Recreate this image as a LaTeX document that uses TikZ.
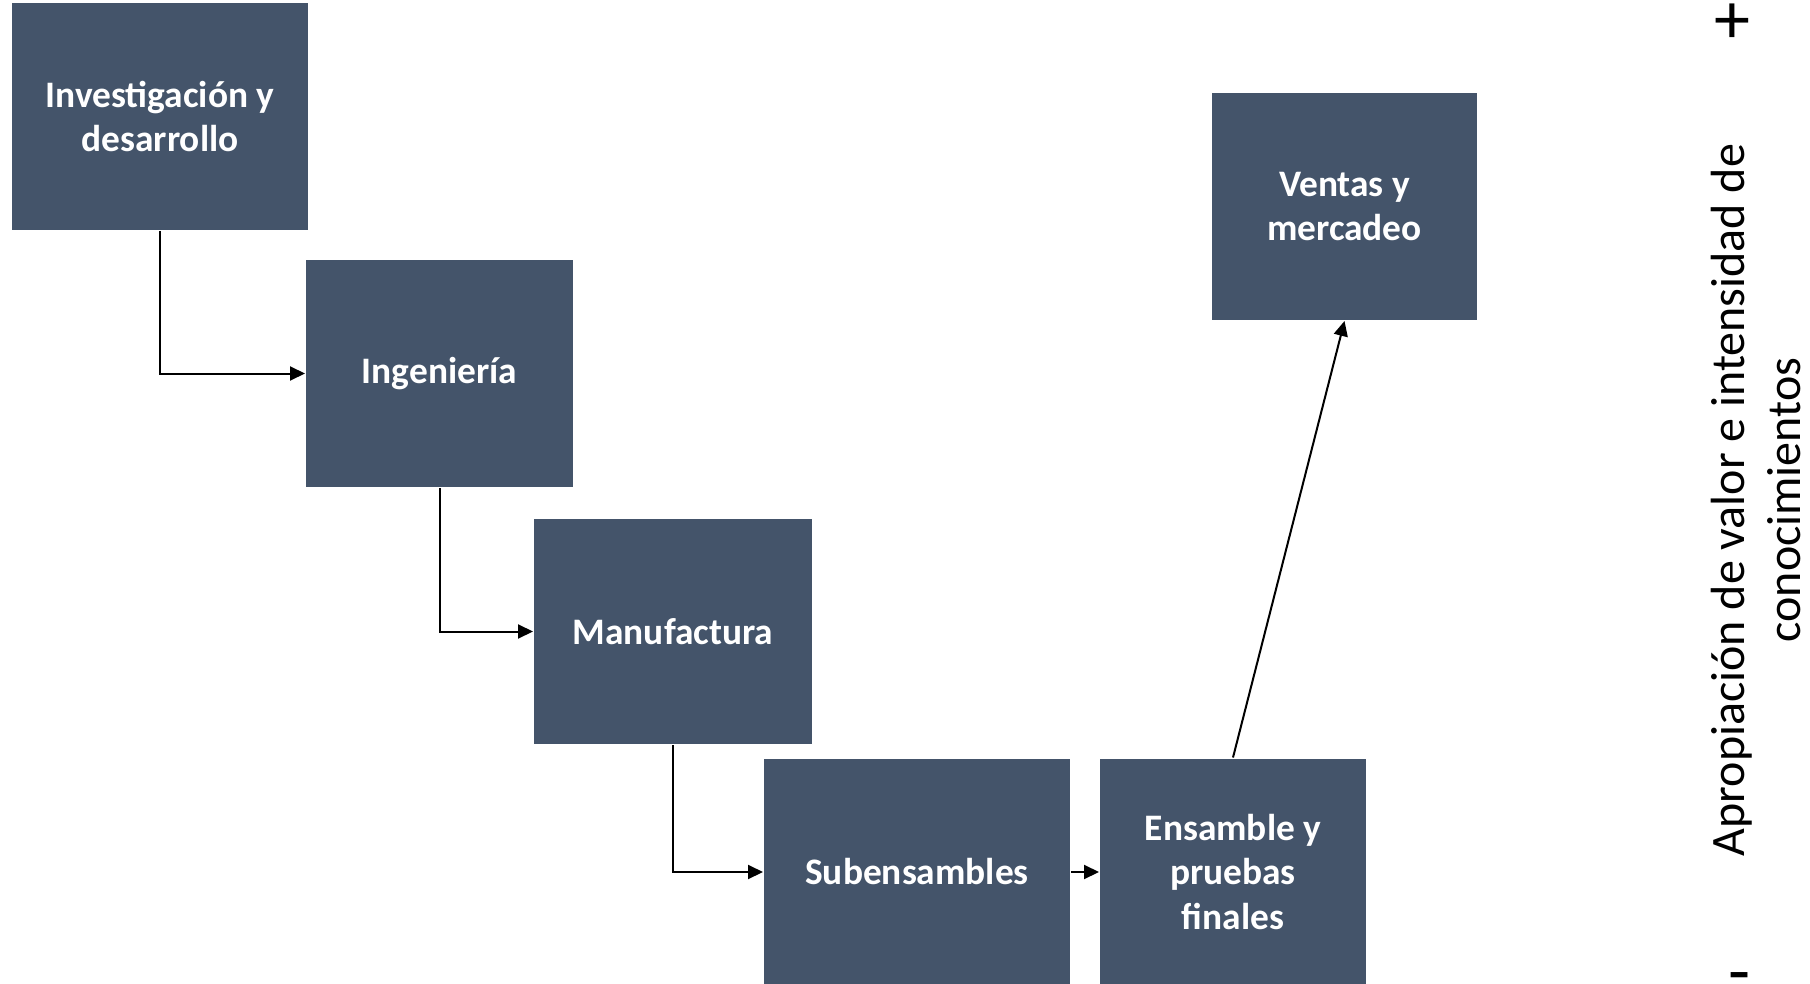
\documentclass[tikz,border=0pt]{standalone}
\usepackage{fontspec}
\setmainfont{Carlito}
\usetikzlibrary{arrows.meta}
\definecolor{boxblue}{HTML}{44546A}
\begin{document}
\begin{tikzpicture}[x=0.5pt,y=-0.5pt,>={Triangle[length=7.5pt,width=7pt]},line width=1pt]
\useasboundingbox (0,0) rectangle (1810,984);
\tikzstyle{stage}=[rectangle,fill=boxblue,text=white,align=center,minimum height=113.5pt,font=\bfseries\fontsize{18.7}{22.3}\selectfont]
\node[stage,minimum width=148pt](e1) at (160,116.5) {Investigación y\\desarrollo};
\node[stage,minimum width=133.5pt](e2) at (439.5,373.5) {Ingeniería};
\node[stage,minimum width=139pt,minimum height=112.5pt](e3) at (673,631.5) {Manufactura};
\node[stage,minimum width=153pt](e4) at (917,872) {Subensambles};
\node[stage,minimum width=133pt](e5) at (1233,872) {Ensamble y\\pruebas\\finales};
\node[stage,minimum width=132.5pt](e6) at (1344.5,206.5) {Ventas y\\mercadeo};
\draw[->] (e1.south) |- (e2.west);
\draw[->] (e2.south) |- (e3.west);
\draw[->] (e3.south) |- (e4.west);
\draw[->] (e4.east) -- (e5.west);
\draw[->] (e5.north) -- (e6.south);
\node[rotate=90,align=center,font=\fontsize{24}{28}\selectfont](eje) at (1756,500) {Apropiación de valor e intensidad de\\conocimientos};
\node[anchor=north,inner sep=0pt,font=\fontsize{36}{36}\selectfont](mas) at (1732,3) {+};
\node[anchor=north,inner sep=0pt,font=\fontsize{36}{36}\selectfont](menos) at (1740,972) {-};
\end{tikzpicture}
\end{document}
